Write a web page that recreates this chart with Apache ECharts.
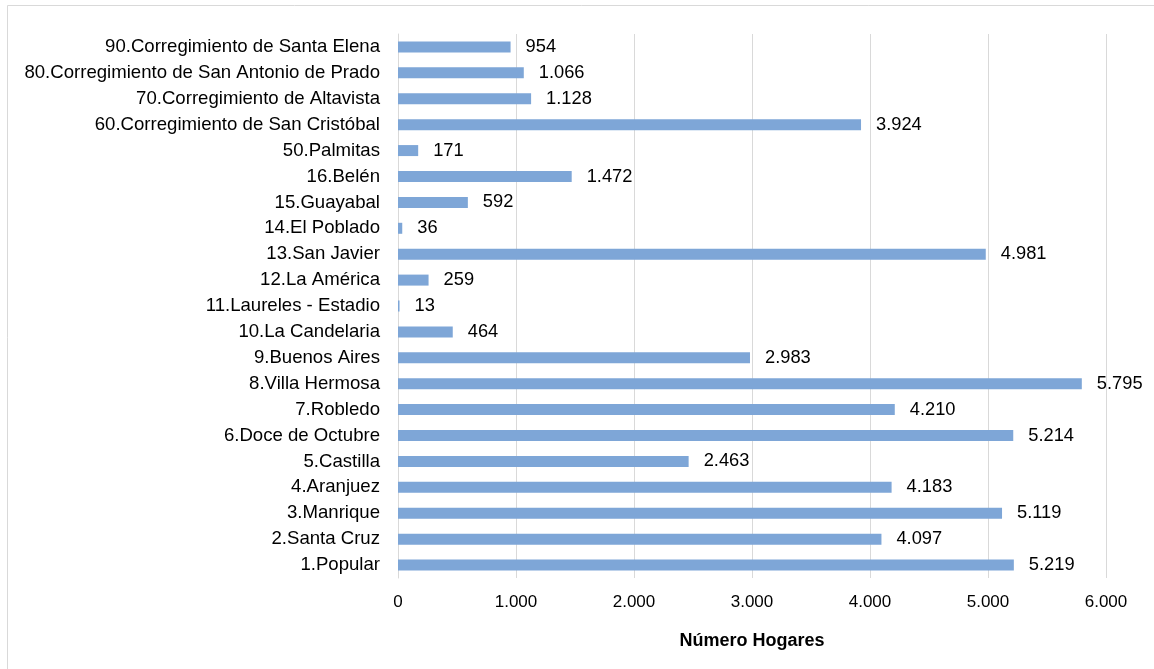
<!DOCTYPE html>
<html>
<head>
<meta charset="utf-8">
<script src="https://cdn.jsdelivr.net/npm/echarts@6/dist/echarts.min.js"></script>
<style>
html,body{margin:0;padding:0;background:#fff;}
#chart{width:1154px;height:669px;}
</style>
</head>
<body>
<div id="chart"></div>
<script>
const categories = [
  "1.Popular","2.Santa Cruz","3.Manrique","4.Aranjuez","5.Castilla","6.Doce de Octubre",
  "7.Robledo","8.Villa Hermosa","9.Buenos Aires","10.La Candelaria","11.Laureles - Estadio",
  "12.La América","13.San Javier","14.El Poblado","15.Guayabal","16.Belén","50.Palmitas",
  "60.Corregimiento de San Cristóbal","70.Corregimiento de Altavista",
  "80.Corregimiento de San Antonio de Prado","90.Corregimiento de Santa Elena"
];
const hogares = [5219,4097,5119,4183,2463,5214,4210,5795,2983,464,13,259,4981,36,592,1472,171,3924,1128,1066,954];
const xTicks = [0,1000,2000,3000,4000,5000,6000];
const axisName = "Número Hogares";

function fmt(v){ return String(v).replace(/\B(?=(\d{3})+(?!\d))/g, "."); }

const chart = echarts.init(document.getElementById('chart'));
const font = "'Liberation Sans', Arial, sans-serif";
chart.setOption({
  animation:false,
  backgroundColor:'#fff',
  graphic:[{type:'rect',shape:{x:7.5,y:5.5,width:1200,height:700},style:{fill:'none',stroke:'#d9d9d9',lineWidth:1},silent:true}],
  grid:{left:398,right:48,top:34,bottom:91,containLabel:false},
  xAxis:{
    type:'value',min:xTicks[0],max:xTicks[xTicks.length-1],interval:1000,
    axisLine:{show:false},axisTick:{show:false},
    splitLine:{lineStyle:{color:'#d9d9d9',width:1}},
    axisLabel:{margin:16,fontSize:17,color:'#000',fontFamily:font,formatter:v=>fmt(v)},
    name:axisName,nameLocation:'middle',nameGap:54,
    nameTextStyle:{fontSize:18,fontWeight:'bold',color:'#000',fontFamily:font}
  },
  yAxis:{
    type:'category',data:categories,
    axisLine:{show:true,lineStyle:{color:'#d9d9d9',width:1}},
    axisTick:{show:false},
    axisLabel:{margin:18,fontSize:18.6,color:'#000',fontFamily:font}
  },
  series:[{
    type:'bar',data:hogares,barWidth:11,
    itemStyle:{color:'#7ea6d7'},
    label:{show:true,position:'right',distance:15,fontSize:18.3,color:'#000',fontFamily:font,formatter:p=>fmt(p.value)}
  }]
});
</script>
</body>
</html>
